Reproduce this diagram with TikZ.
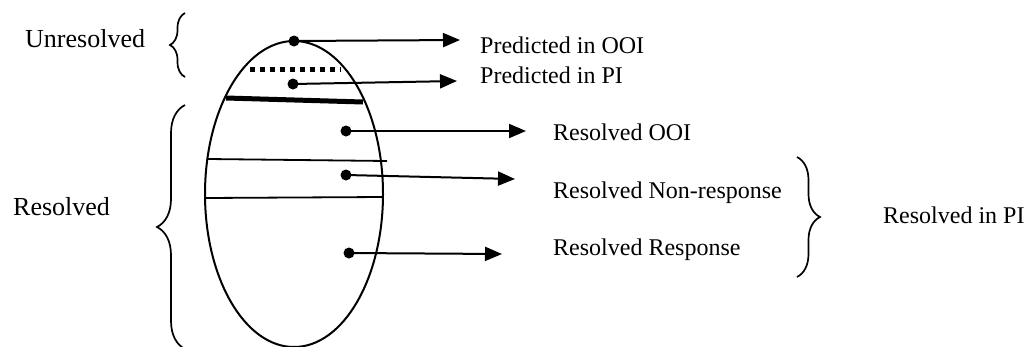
\documentclass[tikz,border=0pt]{standalone}
\usepackage{fontspec}
\setmainfont{Liberation Serif}
\usetikzlibrary{arrows.meta,decorations.pathreplacing}

\begin{document}
\begin{tikzpicture}[x=1pt,y=-1pt,
  lbl/.style={anchor=base west,inner sep=0pt,font=\fontsize{24}{28}\selectfont},
  sidelbl/.style={anchor=base west,inner sep=0pt,font=\fontsize{26}{30}\selectfont},
  ptr/.style={line width=2pt,-{Triangle[length=17pt,width=14pt]}},
  dot/.style={circle,fill=black,inner sep=0pt,minimum size=11pt},
  brc/.style={decorate,decoration={brace,amplitude=#1},line width=1.7pt},
  divider/.style={line width=1.8pt}]

\useasboundingbox (0,0) rectangle (1026,346);

% the population as one oval
\draw[line width=2pt] (294,194) ellipse [x radius=89, y radius=153];

% bands inside the oval
\draw[line width=5pt, dash pattern=on 5pt off 5pt] (250,69) -- (341,69);
\draw[line width=5pt] (226,98) -- (363,102);
\draw[divider] (208,159) -- (387,161);
\draw[divider] (205,198) -- (383,197);

% markers in each band
\node[dot] (d1) at (294,41) {};
\node[dot] (d2) at (293,84) {};
\node[dot] (d3) at (346,131) {};
\node[dot] (d4) at (346,175) {};
\node[dot] (d5) at (349,253) {};

\coordinate (t1) at (460,40);
\coordinate (t2) at (457,81);
\coordinate (t3) at (526,131);
\coordinate (t4) at (515,179);
\coordinate (t5) at (502,254);

\draw[ptr] (d1.center) -- (t1);
\draw[ptr] (d2.center) -- (t2);
\draw[ptr] (d3.center) -- (t3);
\draw[ptr] (d4.center) -- (t4);
\draw[ptr] (d5.center) -- (t5);

% labels
\node[lbl] (l1) at (480,53) {Predicted in OOI};
\node[lbl] (l2) at (480,83) {Predicted in PI};
\node[lbl] (l3) at (553,140) {Resolved OOI};
\node[lbl] (l4) at (553,198) {Resolved Non-response};
\node[lbl] (l5) at (553,255) {Resolved Response};
\node[lbl] (l6) at (883,223) {Resolved in PI};
\node[sidelbl] (s1) at (25,47) {Unresolved};
\node[sidelbl] (s2) at (13,215) {Resolved};

% braces
\draw[brc=15pt] (185,77) -- (185,13);
\draw[brc=28pt] (185,349) -- (185,105);
\draw[brc=23pt] (797,157) -- (797,277);

\end{tikzpicture}
\end{document}
